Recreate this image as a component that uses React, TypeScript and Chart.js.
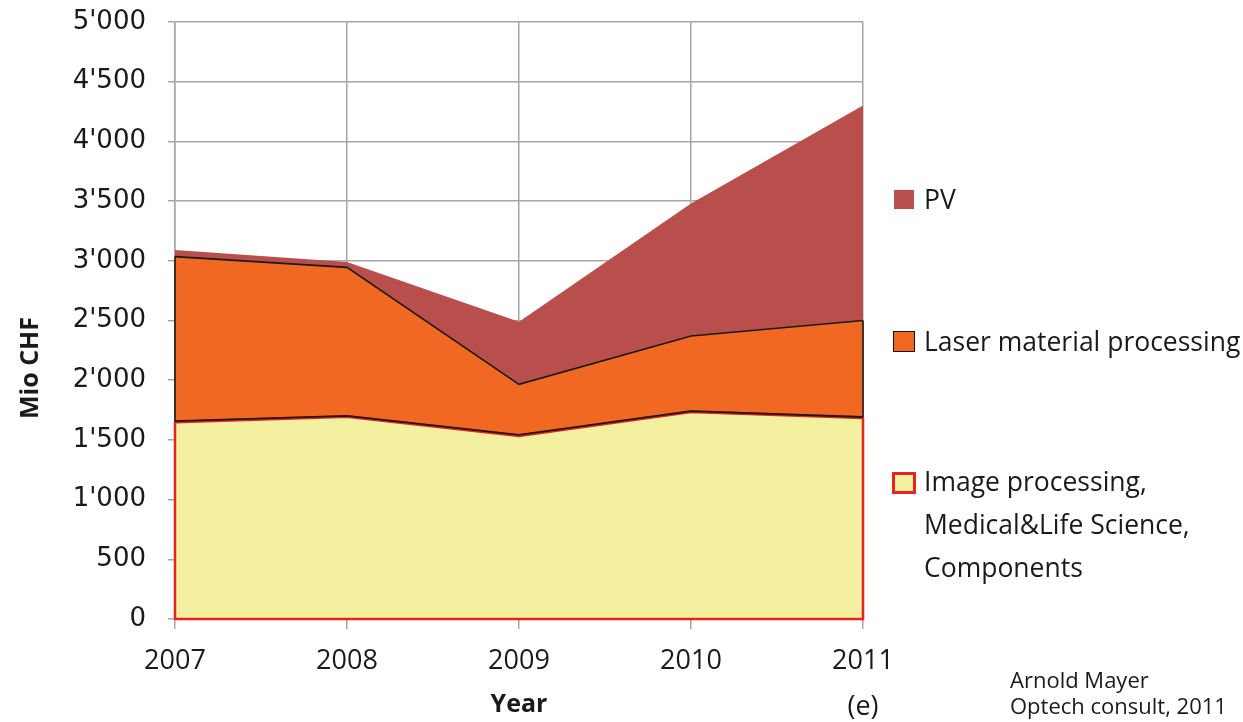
import React, { useEffect, useRef } from "react";
import { Chart, registerables } from "chart.js";

Chart.register(...registerables);

const years: (string | string[])[] = ["2007", "2008", "2009", "2010", ["2011", "(e)"]];
const imageProcessing = [1650, 1695, 1535, 1735, 1685];
const laserProcessing = [1385, 1250, 430, 635, 815];
const pv = [55, 45, 525, 1110, 1800];
const yTicks = [0, 500, 1000, 1500, 2000, 2500, 3000, 3500, 4000, 4500, 5000];

const legendItems = [
  { label: ["PV"], color: "#B94F4C", border: "none" },
  { label: ["Laser material processing"], color: "#F16823", border: "1.5px solid #111" },
  { label: ["Image processing,", "Medical&Life Science,", "Components"], color: "#F3F0A0", border: "3px solid #E8221E" },
];

const fmt = (v: number) => {
  if (v < 1000) return String(v);
  const th = Math.floor(v / 1000);
  const rest = String(v % 1000).padStart(3, "0");
  return `${th}'${rest}`;
};

const edgePlugin = {
  id: "edges",
  afterDatasetsDraw(chart: any) {
    const { ctx } = chart;
    const x = chart.scales.x;
    const y = chart.scales.y;
    const n = imageProcessing.length;
    const xl = x.getPixelForValue(0);
    const xr = x.getPixelForValue(n - 1);
    const y0 = y.getPixelForValue(0);
    const imgL = y.getPixelForValue(imageProcessing[0]);
    const imgR = y.getPixelForValue(imageProcessing[n - 1]);
    const lasL = y.getPixelForValue(imageProcessing[0] + laserProcessing[0]);
    const lasR = y.getPixelForValue(imageProcessing[n - 1] + laserProcessing[n - 1]);
    ctx.save();
    ctx.strokeStyle = "#1a1a1a";
    ctx.lineWidth = 1.8;
    ctx.beginPath();
    imageProcessing.forEach((v, i) => {
      const px = x.getPixelForValue(i);
      const py = y.getPixelForValue(v) - 0.8;
      if (i === 0) ctx.moveTo(px, py);
      else ctx.lineTo(px, py);
    });
    ctx.stroke();
    ctx.strokeStyle = "#E8221E";
    ctx.lineWidth = 2.5;
    ctx.beginPath();
    ctx.moveTo(xl, imgL);
    ctx.lineTo(xl, y0);
    ctx.lineTo(xr, y0);
    ctx.lineTo(xr, imgR);
    ctx.stroke();
    ctx.strokeStyle = "#1a1a1a";
    ctx.lineWidth = 1.6;
    ctx.beginPath();
    ctx.moveTo(xl, imgL);
    ctx.lineTo(xl, lasL);
    ctx.moveTo(xr, imgR);
    ctx.lineTo(xr, lasR);
    ctx.stroke();
    ctx.restore();
  },
};

export default function App() {
  const ref = useRef<HTMLCanvasElement | null>(null);

  useEffect(() => {
    if (!ref.current) return;
    const chart = new Chart(ref.current, {
      type: "line",
      data: {
        labels: years as any,
        datasets: [
          {
            label: "Image processing, Medical&Life Science, Components",
            data: imageProcessing,
            backgroundColor: "#F3F0A0",
            borderColor: "#E8221E",
            borderWidth: 3,
            fill: "origin",
            pointRadius: 0,
            tension: 0,
          },
          {
            label: "Laser material processing",
            data: laserProcessing,
            backgroundColor: "#F16823",
            borderColor: "#1a1a1a",
            borderWidth: 1.6,
            fill: "-1",
            pointRadius: 0,
            tension: 0,
          },
          {
            label: "PV",
            data: pv,
            backgroundColor: "#B94F4C",
            borderColor: "#B94F4C",
            borderWidth: 0,
            fill: "-1",
            pointRadius: 0,
            tension: 0,
          },
        ],
      },
      options: {
        animation: false,
        responsive: false,
        layout: { padding: { left: 0, right: 380, top: 22, bottom: 0 } },
        plugins: { legend: { display: false }, tooltip: { enabled: false } },
        scales: {
          x: {
            offset: false,
            grid: { color: "#A6A6A6", lineWidth: 1.5, tickLength: 10, drawOnChartArea: true },
            border: { color: "#A6A6A6", width: 1.5 },
            ticks: {
              color: "#1a1a1a",
              padding: 9,
              maxRotation: 0,
              autoSkip: false,
              font: { family: "'Open Sans', sans-serif", size: 27, lineHeight: 1.7 },
            },
            title: {
              display: true,
              text: "Year",
              color: "#1a1a1a",
              padding: { top: 0, bottom: 2 },
              font: { family: "'Open Sans', sans-serif", size: 25, weight: "bold", lineHeight: 1.2 },
            },
            afterFit: (s: any) => {
              s.height = 103;
            },
          },
          y: {
            stacked: true,
            min: 0,
            max: 5000,
            afterBuildTicks: (s: any) => {
              s.ticks = yTicks.map((v) => ({ value: v }));
            },
            grid: { color: "#A6A6A6", lineWidth: 1.5, tickLength: 7 },
            border: { color: "#A6A6A6", width: 1.5 },
            ticks: {
              color: "#1a1a1a",
              padding: 22,
              callback: (v: any) => fmt(Number(v)),
              font: { family: "'DejaVu Sans', sans-serif", size: 26 },
            },
            afterFit: (s: any) => {
              s.width = 175;
              s.paddingTop = 0;
              s.paddingBottom = 0;
            },
          },
        },
      },
      plugins: [edgePlugin],
    });
    return () => chart.destroy();
  }, []);

  const font = "'Open Sans', sans-serif";
  const squarePos = [
    { left: 894, top: 190, w: 20, h: 19 },
    { left: 893, top: 331, w: 22, h: 21 },
    { left: 892, top: 472, w: 24, h: 22 },
  ];
  const textTop = [186, 328, 460];

  return (
    <div style={{ position: "fixed", left: 0, top: 0, width: 1243, height: 722, background: "#fff" }}>
      <canvas ref={ref} width={1243} height={722} style={{ position: "absolute", left: 0, top: 0 }} />
      <div
        style={{
          position: "absolute",
          left: 28,
          top: 368,
          transform: "translate(-50%, -50%) rotate(-90deg)",
          fontFamily: font,
          fontWeight: "bold",
          fontSize: 25,
          color: "#1a1a1a",
          whiteSpace: "nowrap",
        }}
      >
        Mio CHF
      </div>
      {legendItems.map((item, i) => (
        <React.Fragment key={i}>
          <div
            style={{
              position: "absolute",
              left: squarePos[i].left,
              top: squarePos[i].top,
              width: squarePos[i].w,
              height: squarePos[i].h,
              background: item.color,
              border: item.border,
              boxSizing: "border-box",
            }}
          />
          <div
            style={{
              position: "absolute",
              left: 924,
              top: textTop[i],
              fontFamily: font,
              fontSize: 26.5,
              lineHeight: item.label.length > 1 ? "43px" : 1,
              color: "#1a1a1a",
              whiteSpace: "nowrap",
            }}
          >
            {item.label.map((l, j) => (
              <div key={j}>{l}</div>
            ))}
          </div>
        </React.Fragment>
      ))}
      <div
        style={{
          position: "absolute",
          left: 1010,
          top: 666,
          fontFamily: font,
          fontSize: 22,
          lineHeight: "26px",
          color: "#1a1a1a",
          whiteSpace: "nowrap",
        }}
      >
        <div>Arnold Mayer</div>
        <div>Optech consult, 2011</div>
      </div>
    </div>
  );
}
